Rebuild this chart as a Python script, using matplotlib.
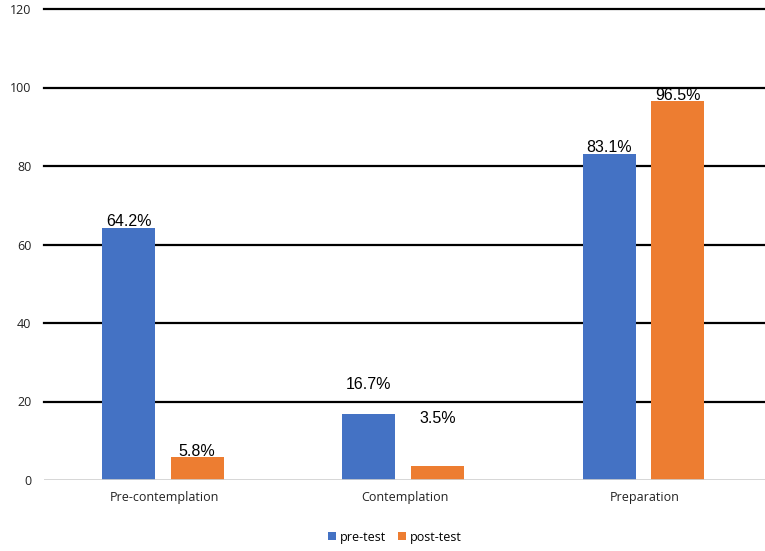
import numpy as np
import matplotlib
matplotlib.use('Agg')
import matplotlib.pyplot as plt

categories = ['Pre-contemplation', 'Contemplation', 'Preparation']
pre_test = [64.2, 16.7, 83.1]
post_test = [5.8, 3.5, 96.5]
series_names = ['pre-test', 'post-test']
colors = ['#4472C4', '#ED7D31']
yticks = [0, 20, 40, 60, 80, 100, 120]

# label offsets (points above bar top)
pre_off = [-1, 16, -1]
post_off = [-1, 29, -1]

fig = plt.figure(figsize=(7.65, 5.51), dpi=100, facecolor='white')
ax = fig.add_axes([44 / 765, 1 - 480 / 551, 1 - 44 / 765, 471 / 551])

x = np.arange(len(categories))
w = 0.22
b1 = ax.bar(x - 0.148, pre_test, w, color=colors[0], label=series_names[0], zorder=3)
b2 = ax.bar(x + 0.137, post_test, w, color=colors[1], label=series_names[1], zorder=3)

for bars, vals, offs in [(b1, pre_test, pre_off), (b2, post_test, post_off)]:
    for r, v, o in zip(bars, vals, offs):
        ax.annotate(f'{v}%', (r.get_x() + r.get_width() / 2, v),
                    xytext=(0, o), textcoords='offset points',
                    ha='center', va='bottom', fontsize=11.5,
                    family='Liberation Sans', color='black', zorder=5)

ax.set_xlim(-0.5, 2.5)
ax.set_ylim(0, 120)
ax.set_yticks(yticks)
ax.set_xticks(x)
ax.set_xticklabels(categories, family='Open Sans', fontsize=9, color='#222222')
ax.set_yticklabels([str(t) for t in yticks], family='Open Sans', fontsize=9, color='#222222')
ax.tick_params(length=0, pad=9)
ax.tick_params(axis='x', pad=8)

for t in yticks[1:]:
    ax.axhline(t, color='black', lw=1.6, zorder=1, clip_on=False)
ax.axhline(0, color='#d0d0d0', lw=1.2, zorder=4)

for s in ax.spines.values():
    s.set_visible(False)

fig.legend(handles=[b1, b2], labels=series_names, loc='center',
           bbox_to_anchor=(395 / 765, 1 - 537 / 551), ncol=2, frameon=False,
           prop={'family': 'Open Sans', 'size': 9},
           handlelength=0.6, handleheight=0.6, handletextpad=0.3, columnspacing=1.0)

fig.savefig('out.png', dpi=100, facecolor='white')
